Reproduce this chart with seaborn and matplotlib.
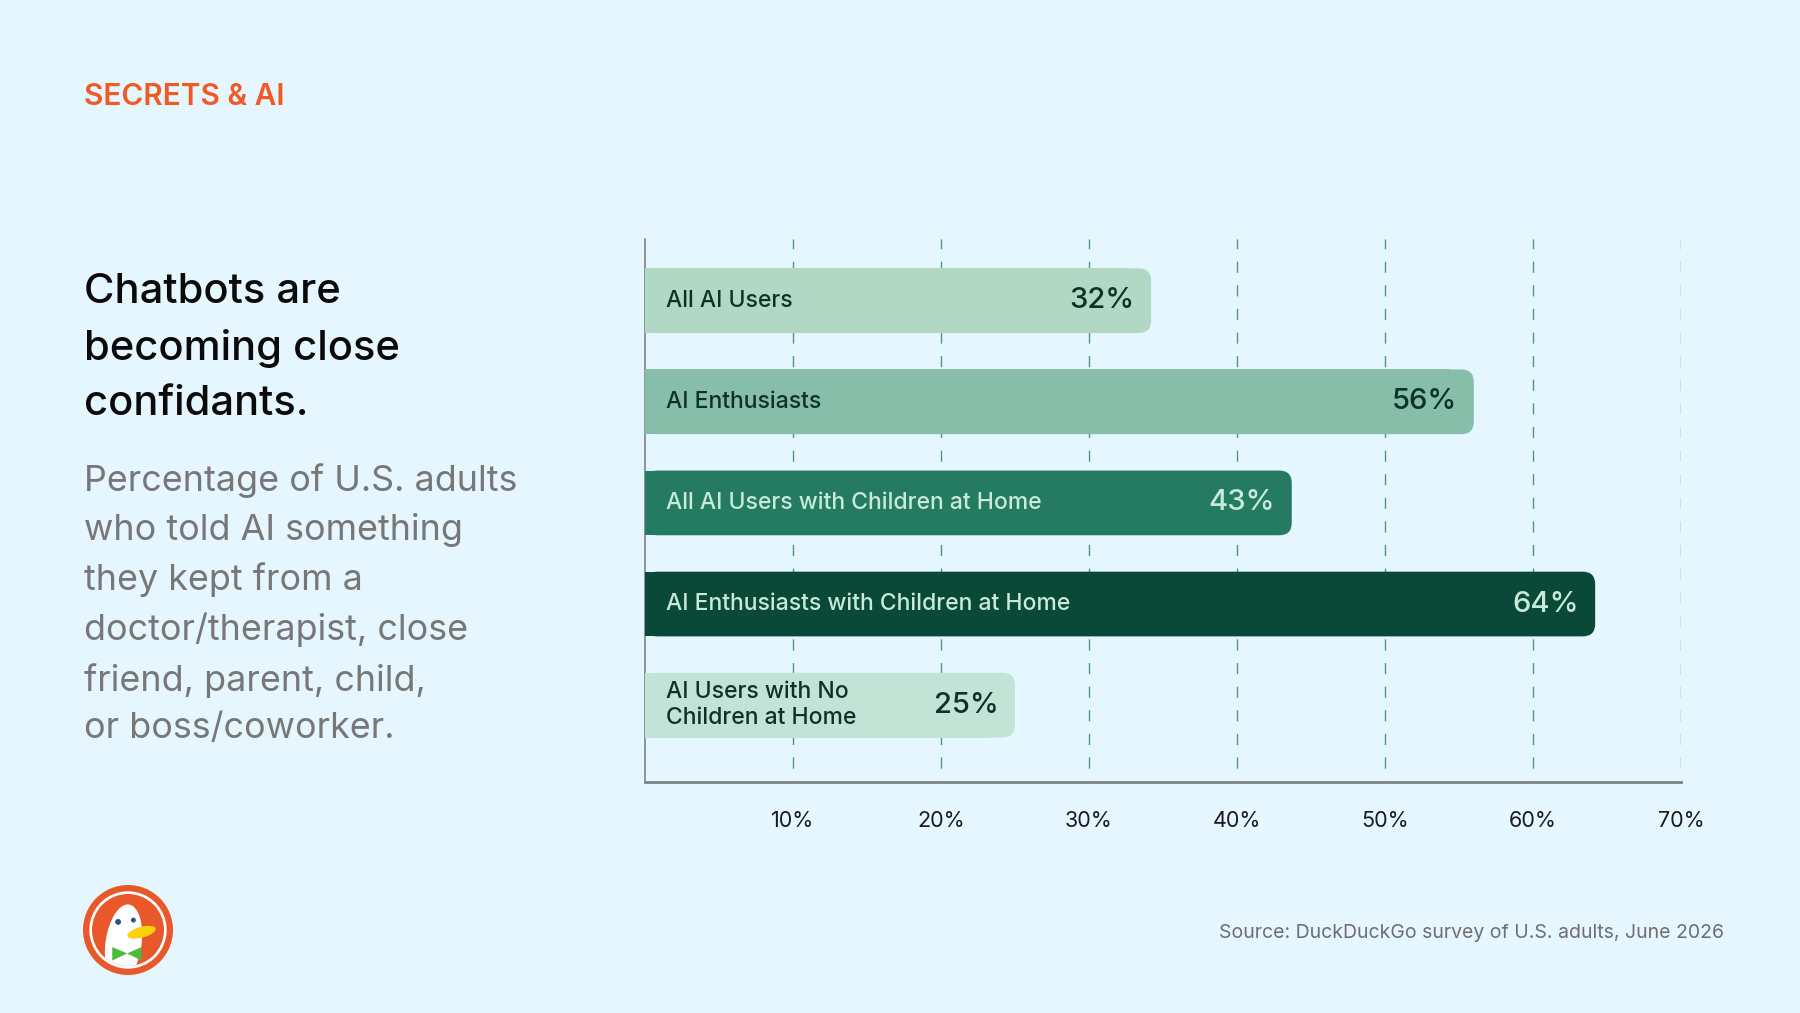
import numpy as np
import pandas as pd
import matplotlib.pyplot as plt
import seaborn as sns
from matplotlib.patches import FancyBboxPatch, Rectangle, Circle, Ellipse, Polygon
import matplotlib.ticker as ticker

# Data
# ==============================================================================
groups = [
    "All AI Users",
    "AI Enthusiasts",
    "All AI Users with Children at Home",
    "AI Enthusiasts with Children at Home",
    "AI Users with No\nChildren at Home",
]
values = [32, 56, 43, 64, 25]                  # printed labels
bar_lengths = [34.2, 56.0, 43.7, 64.2, 25.0]   # bar ends as drawn in the picture
bar_colors = ["#b0d8c4", "#86bea9", "#247b62", "#0a4838", "#c2e4d6"]
text_colors = ["#0d3328", "#0d3328", "#c8ead9", "#c8ead9", "#0d3328"]
xticks = [10, 20, 30, 40, 50, 60, 70]

BG = "#e5f6fe"

sns.set_theme(style="white")
plt.rcParams["font.family"] = ["Inter", "DejaVu Sans"]

fig = plt.figure(figsize=(18, 10.13), dpi=100, facecolor=BG)
ax = fig.add_axes([645 / 1800, 1 - 782 / 1013, 1036 / 1800, 543 / 1013])
ax.set_facecolor(BG)

df = pd.DataFrame({"group": groups, "value": bar_lengths})
sns.barplot(
    data    = df,
    x       = "value",
    y       = "group",
    hue     = "group",
    palette = bar_colors,
    width   = 0.64,
    legend  = False,
    orient  = "h",
    zorder  = 3,
    ax      = ax,
)

ax.set_xlim(0, 70)
ax.set_ylim(4.76, -0.61)

# Rounded right ends for the bars
# ==============================================================================
px_x = 1036 / 70
px_y = 543 / (4.76 + 0.61)
r = 0.85
for i, p in enumerate(list(ax.patches)):
    x0, y0, w, h = p.get_x(), p.get_y(), p.get_width(), p.get_height()
    p.set_visible(False)
    col = bar_colors[i]
    ax.add_patch(FancyBboxPatch((x0, y0), w, h,
                                boxstyle=f"round,pad=0,rounding_size={r}",
                                mutation_aspect=px_x / px_y,
                                fc=col, ec="none", zorder=3))
    ax.add_patch(Rectangle((x0, y0), w - 2 * r, h, fc=col, ec="none", zorder=3))
    yc = y0 + h / 2
    ax.text(1.4, yc, groups[i], ha="left", va="center", fontsize=16.5,
            fontweight="medium", color=text_colors[i], zorder=4, linespacing=1.2)
    ax.text(w - 1.1, yc, f"{values[i]}%", ha="right", va="center", fontsize=21,
            fontweight="medium", color=text_colors[i], zorder=4)

# Axes styling
# ==============================================================================
ax.set_xticks(xticks)
ax.xaxis.set_major_formatter(ticker.FuncFormatter(lambda v, _: f"{v:.0f}%"))
ax.tick_params(axis="x", length=0, pad=21, labelsize=15.5, labelcolor="#1a1a1a")
ax.set_yticks([])
ax.set_xlabel("")
ax.set_ylabel("")
ax.grid(axis="x", color="#4f9a7c", linewidth=1, linestyle=(7, (8, 9)), zorder=1)
ax.grid(axis="y", visible=False)
ax.set_axisbelow(True)
for s in ["top", "right"]:
    ax.spines[s].set_visible(False)
ax.spines["left"].set_color("#7c8585")
ax.spines["left"].set_linewidth(1.2)
ax.spines["bottom"].set_color("#7c8585")
ax.spines["bottom"].set_linewidth(2)

# Texts
# ==============================================================================
fig.text(84 / 1800, 1 - 97 / 1013, "SECRETS & AI", ha="left", va="center",
         fontsize=21.5, fontweight="semibold", color="#f05a24")
fig.text(84 / 1800, 1 - 348 / 1013, "Chatbots are\nbecoming close\nconfidants.",
         ha="left", va="center", fontsize=30, fontweight="medium", color="#0a0a0a",
         linespacing=1.57)
fig.text(84 / 1800, 1 - 604 / 1013,
         "Percentage of U.S. adults\nwho told AI something\nthey kept from a\n"
         "doctor/therapist, close\nfriend, parent, child,\nor boss/coworker.",
         ha="left", va="center", fontsize=25.8, color="#777777", linespacing=1.56)
fig.text(1724 / 1800, 1 - 933 / 1013, "Source: DuckDuckGo survey of U.S. adults, June 2026",
         ha="right", va="center", fontsize=14, color="#6e6e6e")

# Logo
# ==============================================================================
lg = fig.add_axes([83 / 1800, 1 - 975 / 1013, 90 / 1800, 90 / 1013])
lg.set_xlim(-1, 1)
lg.set_ylim(-1, 1)
lg.set_aspect("equal")
lg.axis("off")
lg.add_patch(Circle((0, 0), 1.0, fc="#e8582a", ec="none"))
lg.add_patch(Circle((0, 0), 0.86, fc="white", ec="none"))
inner = Circle((0, 0), 0.80, fc="#e8582a", ec="none")
lg.add_patch(inner)
head = Ellipse((-0.1, -0.3), 0.8, 1.75, angle=-8, fc="white", ec="none")
lg.add_patch(head)
head.set_clip_path(inner)
lg.add_patch(Circle((-0.22, 0.18), 0.065, fc="#2d4f8e", ec="none"))
lg.add_patch(Circle((0.12, 0.22), 0.055, fc="#2d4f8e", ec="none"))
lg.add_patch(Ellipse((0.3, -0.05), 0.65, 0.24, angle=15, fc="#fdd20a", ec="none"))
lg.add_patch(Polygon([[-0.35, -0.38], [-0.02, -0.52], [-0.35, -0.68]], fc="#4cba3c", ec="none"))
lg.add_patch(Polygon([[0.3, -0.38], [-0.02, -0.52], [0.3, -0.68]], fc="#4cba3c", ec="none"))

plt.savefig("out.png", dpi=100, facecolor=BG)
